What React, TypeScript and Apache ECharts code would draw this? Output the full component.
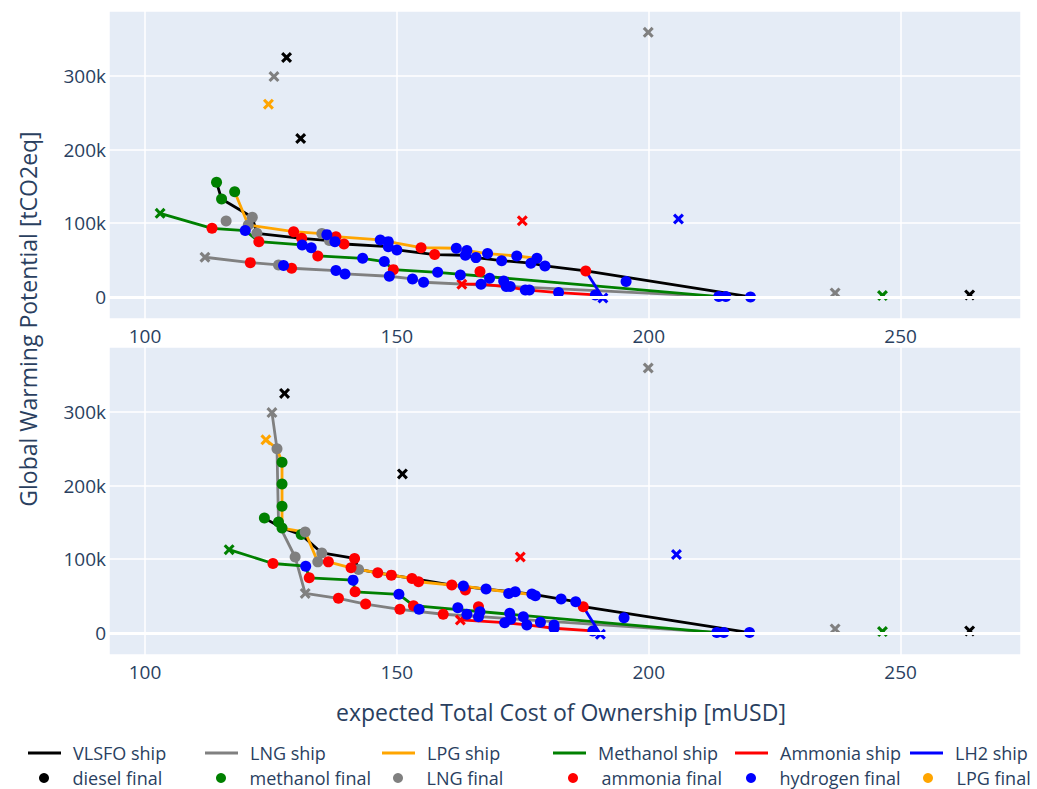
import React, { useEffect, useRef } from 'react';
import * as echarts from 'echarts';

const shipNames = ['VLSFO ship', 'LNG ship', 'LPG ship', 'Methanol ship', 'Ammonia ship', 'LH2 ship'];
const shipColors = ['#000000', '#808080', '#FFA500', '#008000', '#FF0000', '#0000FF'];
const fuelNames = ['diesel final', 'methanol final', 'LNG final', 'ammonia final', 'hydrogen final', 'LPG final'];
const fuelColors = ['#000000', '#008000', '#808080', '#FF0000', '#0000FF', '#FFA500'];

const xTickValues = [100, 150, 200, 250];
const yTickValues = [0, 100, 200, 300];

// ---------- top plot: ship lines (x: mUSD, y: ktCO2eq) ----------
const topVlsfo = [[114.2,155.5],[115.2,132.8],[121.3,108],[122.2,86.3],[131.1,79.5],[136.6,76.4],[137.7,75],[139.5,71.8],[148.3,68.2],[150,63.7],[157.5,57.5],[163.6,56.5],[165.7,53.3],[170.8,49.2],[176.6,45.7],[179.4,42],[187.5,35.2],[220.2,0]];
const topLng = [[111.9,53.8],[120.9,46.5],[126.5,43.4],[127.5,42.5],[129.1,38.9],[137.9,35.7],[139.7,31.2],[148.5,28],[153.1,24.4],[155.3,19.9],[214,0.5]];
const topLpg = [[117.8,142.7],[120.5,97.6],[129.5,88.5],[135.1,86],[136.1,84.5],[137.9,81.7],[146.7,77.3],[148.3,75],[154.8,66.8],[161.8,66],[163.9,62.8],[168,58.8],[173.8,55.5],[177.8,52.4]];
const topMethanol = [[103,113.4],[113.3,93.1],[119.9,90],[122.6,75],[131.2,70.5],[133,66.8],[134.3,55.6],[143.2,52.4],[147.5,47.9],[149.3,37],[158.1,33.4],[213.9,0.5],[215.3,0.5]];
const topAmmonia = [[162.9,17.2],[166.7,17.2],[171.7,14],[175.5,9.5],[182.1,5.8],[189.4,2.7]];
const topLh2 = [[187.5,35.2],[190.9,-1.5]];

// ---------- top plot: fuel markers ----------
const topDieselDots: number[][] = [];
const topDieselX = [[128.1,324.8],[130.9,215],[263.7,2.7]];
const topMethanolDots = [[114.2,155.5],[115.2,132.8],[117.8,142.7]];
const topMethanolX = [[103,113.4],[246.4,1.8]];
const topLngDots = [[116.1,103],[121.3,108],[122.2,86.3],[120.5,97.6],[126.5,43.4],[135.1,86],[136.6,76.4]];
const topLngX = [[125.6,299],[199.9,359],[111.9,53.8],[237,5.4]];
const topAmmoniaDots = [[113.3,93.1],[122.6,75],[129.5,88.5],[131.1,79.5],[137.9,81.7],[139.5,71.8],[134.3,55.6],[120.9,46.5],[129.1,38.9],[149.3,37],[154.8,66.8],[157.5,57.5],[166.5,34.3],[187.5,35.2]];
const topAmmoniaX = [[174.9,103.4],[162.9,17.2]];
const topHydrogenDots = [[119.9,90],[131.2,70.5],[133,66.8],[136.1,84.5],[137.7,75],[143.2,52.4],[146.7,77.3],[147.5,47.9],[148.3,75],[148.3,68.2],[150,63.7],[127.5,42.5],[137.9,35.7],[139.7,31.2],[148.5,28],[153.1,24.4],[155.3,19.9],[158.1,33.4],[161.8,66],[163.9,62.8],[163.6,56.5],[165.7,53.3],[168,58.8],[170.8,49.2],[173.8,55.5],[176.6,45.7],[177.8,52.4],[179.4,42],[162.6,29.8],[168.4,25.3],[171.2,21.7],[166.7,17.2],[171.7,14],[172.5,14],[175.5,9.5],[176.3,9.5],[182.1,5.8],[189.4,2.7],[195.5,20.8],[213.9,0.5],[215.3,0.5],[220.2,0]];
const topHydrogenX = [[205.9,105.7],[190.9,-1.5]];
const topLpgDots: number[][] = [];
const topLpgX = [[124.5,261.6]];

// ---------- bottom plot: ship lines ----------
const botVlsfo = [[123.7,155.8],[127.2,142.3],[131,133.4],[135.1,108.5],[141.6,101],[142.4,86.1],[146.2,81.5],[148.9,78.4],[153,73.9],[160.9,64.9],[167.7,59.5],[176.8,52.7],[182.6,45.9],[185.5,42.3],[187,35.5],[220,0.4]];
const botLng = [[125.2,299],[126.2,250],[126.5,148],[129.8,103],[131.8,53.6],[138.4,46.9],[143.8,39.2],[150.6,32],[159.2,25.3],[214,0.4]];
const botLpg = [[124,262],[126.2,250],[127.2,231.5],[127.2,202],[127.2,172],[127.2,142.3],[131.8,136.9],[134.3,96.4],[136.4,96.4],[140.9,88.3],[142.4,86.1],[146.2,81.5],[148.9,78.4],[153,73.9],[154.3,69.4],[160.9,64.9],[163.2,63.5],[167.7,59.5],[172.2,55.5],[177.5,51.5]];
const botMethanol = [[116.7,113],[125.4,94.2],[131.9,90.5],[132.6,74.7],[141.3,71.6],[141.7,55.8],[150.4,52.3],[153.3,36.9],[213.5,0.4],[214.9,0.4]];
const botAmmonia = [[162.6,17.6],[171.4,13.9],[175.8,10.8],[181.2,6.3],[188.9,2.7]];
const botLh2 = [[187,35.5],[190.4,-1.8]];

// ---------- bottom plot: fuel markers ----------
const botDieselDots: number[][] = [];
const botDieselX = [[127.7,325],[151.1,215.8],[263.7,2.7]];
const botMethanolDots = [[123.7,155.8],[126.5,150.4],[127.2,142.3],[127.2,231.5],[127.2,202],[127.2,172],[131,133.4]];
const botMethanolX = [[116.7,113],[246.4,1.8]];
const botLngDots = [[126.2,250],[131.8,136.9],[135.1,108.5],[134.3,96.4],[142.4,86.1],[129.8,103]];
const botLngX = [[125.2,299],[131.8,53.6],[199.9,359.5],[237,5.4]];
const botAmmoniaDots = [[125.4,94.2],[136.4,96.4],[141.6,101],[140.9,88.3],[146.2,81.5],[148.9,78.4],[153,73.9],[154.3,69.4],[160.9,64.9],[163.6,58.1],[132.6,74.7],[141.7,55.8],[153.3,36.9],[138.4,46.9],[143.8,39.2],[150.6,32],[159.2,25.3],[166.2,35.5],[187,35.5]];
const botAmmoniaX = [[174.5,103],[162.6,17.6]];
const botHydrogenDots = [[131.9,90.5],[141.3,71.6],[150.4,52.3],[154.4,32],[163.2,63.5],[167.7,59.5],[172.2,53.6],[173.5,55.8],[176.8,52.7],[177.5,50.4],[182.6,45.9],[185.5,42.3],[162.1,34.2],[163.9,25.3],[166.2,22],[166.5,28.8],[172.4,26.6],[171.4,13.9],[172.6,18.5],[175.1,22],[175.8,10.8],[178.5,14.4],[181.2,10.8],[181.2,6.3],[188.9,2.7],[195.1,20.7],[213.5,0.4],[214.9,0.4],[220,0.4]];
const botHydrogenX = [[205.5,106.3],[190.4,-1.8]];
const botLpgDots: number[][] = [];
const botLpgX = [[124,262]];

const topShipLines = [topVlsfo, topLng, topLpg, topMethanol, topAmmonia, topLh2];
const botShipLines = [botVlsfo, botLng, botLpg, botMethanol, botAmmonia, botLh2];
const topFuelDots = [topDieselDots, topMethanolDots, topLngDots, topAmmoniaDots, topHydrogenDots, topLpgDots];
const topFuelX = [topDieselX, topMethanolX, topLngX, topAmmoniaX, topHydrogenX, topLpgX];
const botFuelDots = [botDieselDots, botMethanolDots, botLngDots, botAmmoniaDots, botHydrogenDots, botLpgDots];
const botFuelX = [botDieselX, botMethanolX, botLngX, botAmmoniaX, botHydrogenX, botLpgX];

const CROSS = 'path://M2,0L5,3L8,0L10,2L7,5L10,8L8,10L5,7L2,10L0,8L3,5L0,2Z';
const LINE_ICON = 'path://M0,0L33,0L33,3L0,3Z';
const FONT = '"Open Sans", "Noto Sans", sans-serif';
const AXIS_COLOR = '#2a3f5f';

const shipLegendLefts = [28, 205, 382, 553, 735, 910];
const fuelLegendLefts = [39, 216, 393, 568, 746, 923];

function buildOption() {
  const grids = [
    { left: 109, top: 11, width: 912, height: 308 },
    { left: 109, top: 347, width: 912, height: 308 },
  ];
  const xAxes = grids.map((_, i) => ({
    type: 'value',
    gridIndex: i,
    min: 92.85,
    max: 273.9,
    minInterval: 50,
    maxInterval: 50,
    axisLine: { show: false },
    axisTick: { show: false },
    splitLine: { show: true, lineStyle: { color: '#ffffff', width: 1.5 } },
    axisLabel: {
      show: true,
      showMinLabel: false,
      showMaxLabel: false,
      margin: 7,
      color: AXIS_COLOR,
      fontSize: 19,
      fontFamily: FONT,
      formatter: (v: number) => (xTickValues.indexOf(v) >= 0 ? String(v) : ''),
    },
  }));
  const yAxes = grids.map((_, i) => ({
    type: 'value',
    gridIndex: i,
    min: -30,
    max: 388,
    minInterval: 100,
    maxInterval: 100,
    axisLine: { show: false },
    axisTick: { show: false },
    splitLine: { show: true, lineStyle: { color: '#ffffff', width: 1.5 } },
    axisLabel: {
      show: true,
      showMinLabel: false,
      showMaxLabel: false,
      margin: 3,
      color: AXIS_COLOR,
      fontSize: 19,
      fontFamily: FONT,
      formatter: (v: number) => (yTickValues.indexOf(v) >= 0 ? (v === 0 ? '0' : v + 'k') : ''),
    },
  }));

  const series: any[] = [];
  [0, 1].forEach((g) => {
    series.push({
      name: '_zero' + g,
      type: 'line',
      xAxisIndex: g,
      yAxisIndex: g,
      data: [],
      z: 1,
      silent: true,
      markLine: {
        silent: true,
        symbol: 'none',
        label: { show: false },
        lineStyle: { color: '#ffffff', width: 3, type: 'solid' },
        data: [{ yAxis: 0 }],
      },
    });
    const lines = g === 0 ? topShipLines : botShipLines;
    lines.forEach((pts, i) => {
      series.push({
        name: shipNames[i],
        type: 'line',
        xAxisIndex: g,
        yAxisIndex: g,
        data: pts,
        color: shipColors[i],
        symbol: 'none',
        showSymbol: false,
        lineStyle: { color: shipColors[i], width: 2.8 },
        z: 2,
        emphasis: { disabled: true },
        silent: true,
      });
    });
    const dots = g === 0 ? topFuelDots : botFuelDots;
    const crosses = g === 0 ? topFuelX : botFuelX;
    fuelNames.forEach((fn, i) => {
      const data = [
        ...dots[i].map((p) => ({ value: p })),
        ...crosses[i].map((p) => ({ value: p, symbol: CROSS, symbolSize: 11 })),
      ];
      series.push({
        name: fn,
        type: 'scatter',
        xAxisIndex: g,
        yAxisIndex: g,
        data,
        color: fuelColors[i],
        symbol: 'circle',
        symbolSize: 11,
        itemStyle: { color: fuelColors[i], opacity: 1 },
        z: 3,
        emphasis: { disabled: true },
        silent: true,
      });
    });
  });

  const legendBase = {
    orient: 'horizontal',
    padding: 0,
    itemWidth: 33,
    itemHeight: 10,
    selectedMode: false,
    textStyle: { color: AXIS_COLOR, fontSize: 18, fontFamily: FONT, padding: [0, 0, 0, 7] },
  };
  const legends: any[] = [];
  shipLegendLefts.forEach((left, i) => {
    legends.push({ ...legendBase, left, top: 744, data: [{ name: shipNames[i], icon: LINE_ICON }] });
  });
  fuelLegendLefts.forEach((left, i) => {
    legends.push({ ...legendBase, left, top: 769, data: [{ name: fuelNames[i], icon: 'circle' }] });
  });

  return {
    animation: false,
    backgroundColor: '#ffffff',
    grid: grids.map((gr) => ({ ...gr, show: true, backgroundColor: '#E5ECF6', borderWidth: 0 })),
    xAxis: xAxes,
    yAxis: yAxes,
    legend: legends,
    series,
    graphic: [
      {
        type: 'text',
        x: 561,
        y: 712,
        style: {
          text: 'expected Total Cost of Ownership [mUSD]',
          font: '23px ' + FONT,
          fill: AXIS_COLOR,
          align: 'center',
          verticalAlign: 'middle',
        },
      },
      {
        type: 'text',
        x: 28,
        y: 319,
        rotation: Math.PI / 2,
        style: {
          text: 'Global Warming Potential [tCO2eq]',
          font: '23px ' + FONT,
          fill: AXIS_COLOR,
          align: 'center',
          verticalAlign: 'middle',
        },
      },
    ],
  };
}

export default function App() {
  const ref = useRef<HTMLDivElement>(null);
  useEffect(() => {
    if (!ref.current) return;
    const chart = echarts.init(ref.current, undefined, { renderer: 'svg' });
    chart.setOption(buildOption() as any);
    return () => chart.dispose();
  }, []);
  return (
    <div
      ref={ref}
      style={{ position: 'fixed', left: 0, top: 0, width: 1037, height: 789, background: '#fff' }}
    />
  );
}
